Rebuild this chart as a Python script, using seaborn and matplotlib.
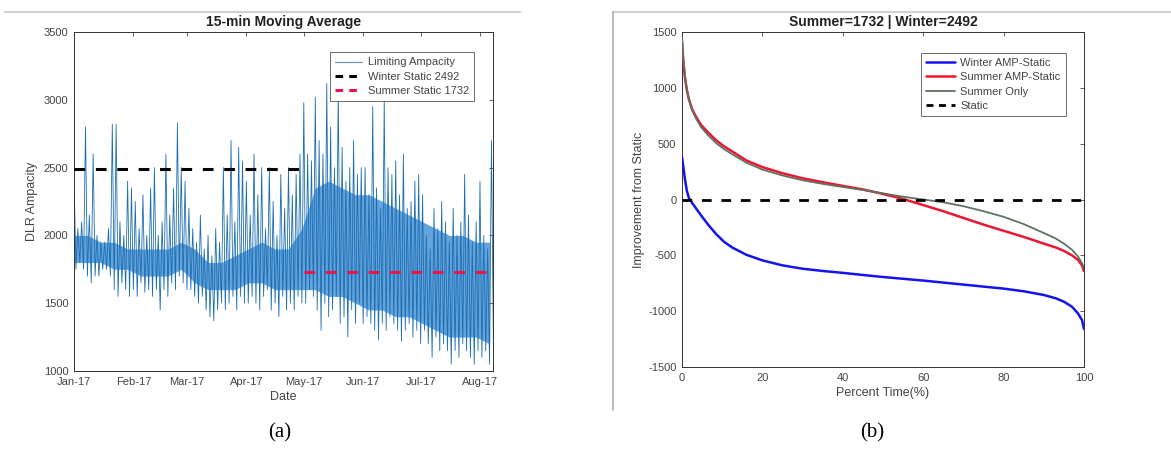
import numpy as np
import pandas as pd
import matplotlib
matplotlib.use("Agg")
import matplotlib.pyplot as plt
import matplotlib.dates as mdates
from matplotlib.lines import Line2D
import seaborn as sns

# ---------------- data: panel (a) ----------------
start_date = "2017-01-01"
# peaks and troughs of the limiting ampacity, every 2 days
amp_high = [2450, 2050, 2100, 2800, 2150, 2600, 2000, 1950, 1950, 2050, 2820, 2820, 2100, 2000, 2400, 2350,
            2250, 2050, 2300, 2000, 2350, 2500, 2000, 2100, 2600, 2150, 2350, 2830, 2500, 2400,
            2200, 2050, 1950, 2150, 1900, 2000, 1850, 2050, 1950, 2500, 2150, 2700, 2100, 2650, 2550,
            2400, 2150, 2600, 2300, 2500, 2050, 2500, 2250, 2000, 2450, 2200, 2500, 2300, 2450, 2600,
            2980, 2600, 2550, 3020, 2700, 2600, 3120, 2800, 2500, 3080, 2650, 2400, 2500, 2700, 2450, 2500,
            2500, 2300, 2950, 2350, 2200, 3000, 2500, 2450, 2550, 2300, 2600, 2200, 2250, 2400, 2450,
            2300, 2000, 1900, 2200, 2050, 2250, 2100, 1950, 2200, 2000, 2100, 2450, 2150, 1950, 2100,
            2400, 2000, 1900, 2700]
amp_low = [1750, 1800, 1750, 1700, 1650, 1700, 1700, 1750, 1750, 1700, 1600, 1550, 1650, 1600, 1550, 1600,
           1550, 1650, 1580, 1600, 1550, 1600, 1450, 1600, 1550, 1650, 1600, 1700, 1650, 1600,
           1600, 1550, 1500, 1550, 1450, 1400, 1370, 1450, 1500, 1450, 1500, 1550, 1450, 1550, 1500,
           1500, 1550, 1500, 1450, 1550, 1600, 1450, 1500, 1400, 1550, 1450, 1500, 1450, 1550, 1500,
           1500, 1600, 1550, 1450, 1300, 1500, 1400, 1450, 1550, 1350, 1400, 1250, 1450, 1350, 1500, 1350,
           1400, 1350, 1300, 1230, 1350, 1300, 1400, 1350, 1300, 1220, 1300, 1350, 1250, 1300, 1200,
           1300, 1200, 1100, 1250, 1150, 1200, 1150, 1050, 1150, 1100, 1200, 1150, 1100, 1050, 1150,
           1100, 1150, 1050, 1200]
# dense core of the band, weekly
core_top = [2000, 2000, 1950, 1950, 1900, 1900, 1900, 1900, 1950, 1900, 1800, 1800, 1850,
            1900, 1950, 1900, 1900, 2050, 2350, 2400, 2350, 2300, 2300, 2250, 2200, 2150,
            2100, 2050, 2000, 2000, 1950, 1950]
core_bot = [1800, 1800, 1800, 1750, 1750, 1700, 1700, 1700, 1750, 1650, 1600, 1600, 1600,
            1650, 1650, 1600, 1600, 1600, 1600, 1550, 1550, 1500, 1450, 1450, 1400, 1400,
            1350, 1300, 1250, 1250, 1250, 1200]
winter_static = 2492
summer_static = 1732
season_switch = "2017-05-01"
series_end = "2017-08-08"

# ---------------- data: panel (b) ----------------
pct_time = [0, 0.3, 0.7, 1.2, 1.7, 2.5, 3.5, 4.7, 6.5, 8.5, 10.5, 12.5, 16, 20, 25, 30, 35, 40, 45,
            50, 55, 60, 65, 70, 75, 80, 85, 90, 93, 95, 97, 98.5, 99.5, 100]
winter_amp = [380, 300, 190, 80, 15, -30, -80, -140, -225, -310, -380, -430, -495, -545, -590, -620,
              -640, -657, -676, -694, -710, -726, -744, -762, -780, -798, -822, -855, -885, -915,
              -960, -1020, -1080, -1160]
summer_amp = [1420, 1250, 1100, 980, 900, 810, 740, 670, 600, 530, 475, 430, 350, 290, 235, 190,
              155, 122, 90, 50, 5, -50, -105, -165, -225, -280, -335, -395, -430, -460, -500,
              -540, -590, -640]
summer_only = [1450, 1280, 1120, 990, 900, 800, 725, 650, 575, 505, 450, 405, 330, 268, 215, 172,
               140, 112, 85, 55, 25, 0, -25, -60, -105, -155, -220, -300, -350, -395, -450,
               -510, -570, -610]
static_level = 0

# ---------------- figure ----------------
sns.set_theme(style="white")
plt.rcParams["font.family"] = ["Liberation Sans", "DejaVu Sans"]
plt.rcParams["axes.unicode_minus"] = False
fig = plt.figure(figsize=(11.71, 4.54), dpi=100)
W, H = 1171, 454

def ax_rect(x0, x1, ytop, ybot):
    return [x0 / W, 1 - ybot / H, (x1 - x0) / W, (ybot - ytop) / H]

axA = fig.add_axes(ax_rect(74, 493, 32, 371))
axB = fig.add_axes(ax_rect(682, 1084, 32, 367))

tick_col = "#444444"
MBLUE = "#1c6db3"

# ---- panel (a)
d_hi = pd.date_range(start_date, periods=len(amp_high), freq="2D")
d_lo = d_hi + pd.Timedelta(days=1)
zig_x = np.empty(2 * len(d_hi), dtype="datetime64[ns]")
zig_x[0::2] = d_hi.values
zig_x[1::2] = d_lo.values
zig_y = np.empty(2 * len(amp_high))
zig_y[0::2] = amp_high
zig_y[1::2] = amp_low
df_zig = pd.DataFrame({"date": zig_x, "amp": zig_y})

d_core = pd.date_range(start_date, periods=len(core_top), freq="7D")
axA.fill_between(d_core, core_bot, core_top, color="#2f86d0", alpha=0.75, lw=0, zorder=1)
sns.lineplot(data=df_zig, x="date", y="amp", ax=axA, color=MBLUE, lw=0.6,
             estimator=None, sort=False, zorder=2)

df_w = pd.DataFrame({"date": pd.to_datetime([start_date, season_switch]),
                     "v": [winter_static, winter_static]})
df_s = pd.DataFrame({"date": pd.to_datetime([season_switch, series_end]),
                     "v": [summer_static, summer_static]})
sns.lineplot(data=df_w, x="date", y="v", ax=axA, color="black", lw=2.2,
             linestyle=(0, (3.5, 3.5)), zorder=4)
sns.lineplot(data=df_s, x="date", y="v", ax=axA, color="#E8174A", lw=2.2,
             linestyle=(0, (3.5, 3.5)), zorder=4)

axA.set_xlim(pd.Timestamp(start_date), pd.Timestamp(start_date) + pd.Timedelta(days=218.8))
axA.set_ylim(1000, 3500)
axA.set_yticks(np.arange(1000, 3501, 500))
axA.xaxis.set_major_locator(mdates.MonthLocator())
axA.xaxis.set_major_formatter(mdates.DateFormatter("%b-%y"))
axA.set_xlabel("Date", fontsize=9, color=tick_col, labelpad=3)
axA.set_ylabel("DLR Ampacity", fontsize=9, color=tick_col, labelpad=4)
axA.set_title("15-min Moving Average", fontsize=10, fontweight="bold", color="#222222", pad=4)

legA_handles = [Line2D([], [], color="#6a8fb0", lw=0.8),
                Line2D([], [], color="black", lw=2.2, linestyle=(0, (2.5, 2))),
                Line2D([], [], color="#E8174A", lw=2.2, linestyle=(0, (2.5, 2)))]
legA = axA.legend(legA_handles, ["Limiting Ampacity", "Winter Static 2492", "Summer Static 1732"],
                  loc="upper right", bbox_to_anchor=(0.969, 0.956), fontsize=8, frameon=True,
                  fancybox=False, edgecolor="#555555", framealpha=1, borderpad=0.45,
                  handlelength=2.4, handletextpad=0.6, labelspacing=0.4)
legA.get_frame().set_linewidth(0.6)
for t in legA.get_texts():
    t.set_color(tick_col)

# ---- panel (b)
df_b = pd.DataFrame({"pct": pct_time, "winter": winter_amp, "summer": summer_amp,
                     "only": summer_only})
sns.lineplot(data=df_b, x="pct", y="winter", ax=axB, color="#1414EE", lw=1.8, zorder=4)
sns.lineplot(data=df_b, x="pct", y="summer", ax=axB, color="#EE1530", lw=1.8, zorder=3)
sns.lineplot(data=df_b, x="pct", y="only", ax=axB, color="#5f7262", lw=1.3, zorder=3)
df_static = pd.DataFrame({"pct": [0, 100], "v": [static_level, static_level]})
sns.lineplot(data=df_static, x="pct", y="v", ax=axB, color="black", lw=2.0,
             linestyle=(0, (3.5, 3.5)), zorder=5)
axB.set_xlim(0, 100)
axB.set_ylim(-1500, 1500)
axB.set_xticks(np.arange(0, 101, 20))
axB.set_yticks(np.arange(-1500, 1501, 500))
axB.set_xlabel("Percent Time(%)", fontsize=9, color=tick_col, labelpad=3)
axB.set_ylabel("Improvement from Static", fontsize=9, color=tick_col, labelpad=2)
axB.set_title("Summer=1732 | Winter=2492", fontsize=10, fontweight="bold", color="#222222", pad=4)

legB_handles = [Line2D([], [], color="#1414EE", lw=1.8),
                Line2D([], [], color="#EE1530", lw=1.8),
                Line2D([], [], color="#5f7262", lw=1.3),
                Line2D([], [], color="black", lw=2.0, linestyle=(0, (2.5, 2)))]
legB = axB.legend(legB_handles, ["Winter AMP-Static", "Summer AMP-Static", "Summer Only", "Static"],
                  loc="upper right", bbox_to_anchor=(0.968, 0.955), fontsize=8, frameon=True,
                  fancybox=False, edgecolor="#555555", framealpha=1, borderpad=0.45,
                  handlelength=2.6, handletextpad=0.5, labelspacing=0.4)
legB.get_frame().set_linewidth(0.6)
for t in legB.get_texts():
    t.set_color(tick_col)

for ax in (axA, axB):
    ax.tick_params(direction="in", length=3, width=0.6, top=True, right=True,
                   labelsize=8, colors=tick_col, pad=4)
    for s in ax.spines.values():
        s.set_color("#333333")
        s.set_linewidth(0.7)
    ax.grid(False)

# captions
fig.text(280 / W, 1 - 433 / H, "(a)", ha="center", va="center", fontsize=15,
         family=["Liberation Serif", "DejaVu Serif"], color="black")
fig.text(872 / W, 1 - 433 / H, "(b)", ha="center", va="center", fontsize=15,
         family=["Liberation Serif", "DejaVu Serif"], color="black")

# screenshot borders
fig.add_artist(Line2D([5 / W, 520 / W], [1 - 12 / H, 1 - 12 / H], color="#d0d0d0", lw=1.5))
fig.add_artist(Line2D([613 / W, 1171 / W], [1 - 12 / H, 1 - 12 / H], color="#d0d0d0", lw=1.5))
fig.add_artist(Line2D([613 / W, 613 / W], [1 - 12 / H, 1 - 410 / H], color="#b0b0b0", lw=1.2))

fig.savefig("out.png", dpi=100, facecolor="white")
